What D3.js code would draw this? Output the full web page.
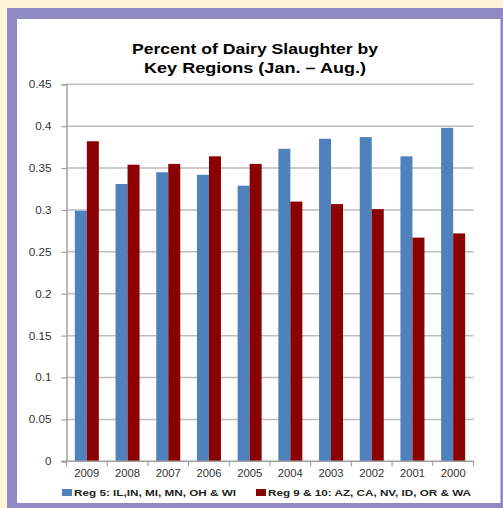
<!DOCTYPE html>
<html>
<head>
<meta charset="utf-8">
<script src="https://cdn.jsdelivr.net/npm/d3@7"></script>
<style>
  html, body { margin: 0; padding: 0; background: #FFF2D6; }
  svg { display: block; }
</style>
</head>
<body>
<svg id="chart" width="503" height="508"></svg>
<script>
// Share of dairy cow slaughter, Jan.–Aug., by region group
const years = ["2009", "2008", "2007", "2006", "2005", "2004", "2003", "2002", "2001", "2000"];
const region5 = [0.299, 0.331, 0.345, 0.342, 0.329, 0.373, 0.385, 0.387, 0.364, 0.398];
const region9and10 = [0.382, 0.354, 0.355, 0.364, 0.355, 0.310, 0.307, 0.301, 0.267, 0.272];
const yTicks = [0, 0.05, 0.1, 0.15, 0.2, 0.25, 0.3, 0.35, 0.4, 0.45];
const seriesNames = ["Reg 5: IL,IN, MI, MN, OH & WI", "Reg 9 & 10: AZ, CA, NV, ID, OR & WA"];
const seriesColors = ["#4F81BD", "#8B0000"];
const titleLines = ["Percent of Dairy Slaughter by", "Key Regions (Jan. \u2013 Aug.)"];

const svg = d3.select("#chart");
const font = "'Liberation Sans', Arial, sans-serif";

// text is set slightly wide: glyphs stretched horizontally to a given run length
const wideText = (sel, len) => sel.attr("textLength", len).attr("lengthAdjust", "spacingAndGlyphs");
const numWidth = s => s.replace(/\./g, "").length * 6.5 + (s.match(/\./g) || []).length * 3.3;

// frame: cream page, purple border, white panel
svg.append("rect").attr("x", 0).attr("y", 0).attr("width", 503).attr("height", 508).attr("fill", "#FFF2D6");
svg.append("rect").attr("x", 7).attr("y", 8).attr("width", 496).attr("height", 500).attr("fill", "#8F8AC4");
svg.append("rect").attr("x", 17).attr("y", 19).attr("width", 483.5).attr("height", 484).attr("fill", "#FFFFFF");
svg.append("line").attr("x1", 500.5).attr("x2", 500.5).attr("y1", 19).attr("y2", 503)
  .attr("stroke", "#B9B5DC").attr("stroke-width", 1);

const plot = { left: 66.5, right: 473.5, top: 84.3, bottom: 461.3 };

const x = d3.scaleBand().domain(years).range([plot.left, plot.right]).paddingInner(0).paddingOuter(0);
const y = d3.scaleLinear().domain([0, 0.45]).range([plot.bottom, plot.top]);
const barW = 12;

// title (two lines)
const titleWidths = [246, 222];
svg.append("g").selectAll("text").data(titleLines).join("text")
  .attr("x", 255).attr("y", (d, i) => 54 + i * 18.5)
  .attr("text-anchor", "middle")
  .attr("font-family", font).attr("font-weight", "bold").attr("font-size", 15)
  .attr("fill", "#000").text(d => d)
  .call(wideText, (d, i) => titleWidths[i]);

// horizontal gridlines
svg.append("g").selectAll("line").data(yTicks.filter(t => t > 0)).join("line")
  .attr("x1", plot.left).attr("x2", plot.right)
  .attr("y1", d => y(d)).attr("y2", d => y(d))
  .attr("stroke", "#BDBDBD").attr("stroke-width", 1.5);

// y axis
const yFmt = d => String(+d.toFixed(2));
const yAxis = svg.append("g").attr("transform", `translate(${plot.left},0)`)
  .call(d3.axisLeft(y).tickValues(yTicks).tickSize(5).tickPadding(10).tickFormat(yFmt));
yAxis.select(".domain").attr("stroke", "#A0A0A0").attr("stroke-width", 1.5);
yAxis.selectAll(".tick line").attr("stroke", "#A0A0A0").attr("stroke-width", 1.2);
yAxis.selectAll("text").attr("font-family", font).attr("font-size", 10.5).attr("fill", "#333")
  .call(wideText, d => numWidth(yFmt(d)));

// bars
const groups = svg.append("g").selectAll("g").data(years).join("g");
groups.append("rect")
  .attr("x", d => x(d) + x.bandwidth() / 2 - barW)
  .attr("y", (d, i) => y(region5[i]))
  .attr("width", barW)
  .attr("height", (d, i) => y(0) - y(region5[i]))
  .attr("fill", seriesColors[0]);
groups.append("rect")
  .attr("x", d => x(d) + x.bandwidth() / 2)
  .attr("y", (d, i) => y(region9and10[i]))
  .attr("width", barW)
  .attr("height", (d, i) => y(0) - y(region9and10[i]))
  .attr("fill", seriesColors[1]);

// x axis with ticks between categories
const xg = svg.append("g");
xg.append("line").attr("x1", plot.left - 5).attr("x2", plot.right)
  .attr("y1", y(0)).attr("y2", y(0)).attr("stroke", "#A0A0A0").attr("stroke-width", 1.5);
const boundaries = years.map(d => x(d)).concat([plot.right]);
xg.selectAll("line.tk").data(boundaries).join("line").attr("class", "tk")
  .attr("x1", d => d).attr("x2", d => d)
  .attr("y1", y(0)).attr("y2", y(0) + 5)
  .attr("stroke", "#A0A0A0").attr("stroke-width", 1.2);
xg.selectAll("text").data(years).join("text")
  .attr("x", d => x(d) + x.bandwidth() / 2).attr("y", 477)
  .attr("text-anchor", "middle")
  .attr("font-family", font).attr("font-size", 10.5).attr("fill", "#333")
  .text(d => d)
  .call(wideText, 25);

// legend
const legendX = [62, 256];
const legendWidths = [162, 203];
const legend = svg.append("g").selectAll("g").data(seriesNames).join("g")
  .attr("transform", (d, i) => `translate(${legendX[i]},489)`);
legend.append("rect").attr("x", 0).attr("y", 0).attr("width", 10).attr("height", 7)
  .attr("fill", (d, i) => seriesColors[i]);
legend.append("text").attr("x", 12).attr("y", 7)
  .attr("font-family", font).attr("font-weight", "bold").attr("font-size", 9.5)
  .attr("fill", "#222").text(d => d)
  .call(wideText, (d, i) => legendWidths[i]);
</script>
</body>
</html>
